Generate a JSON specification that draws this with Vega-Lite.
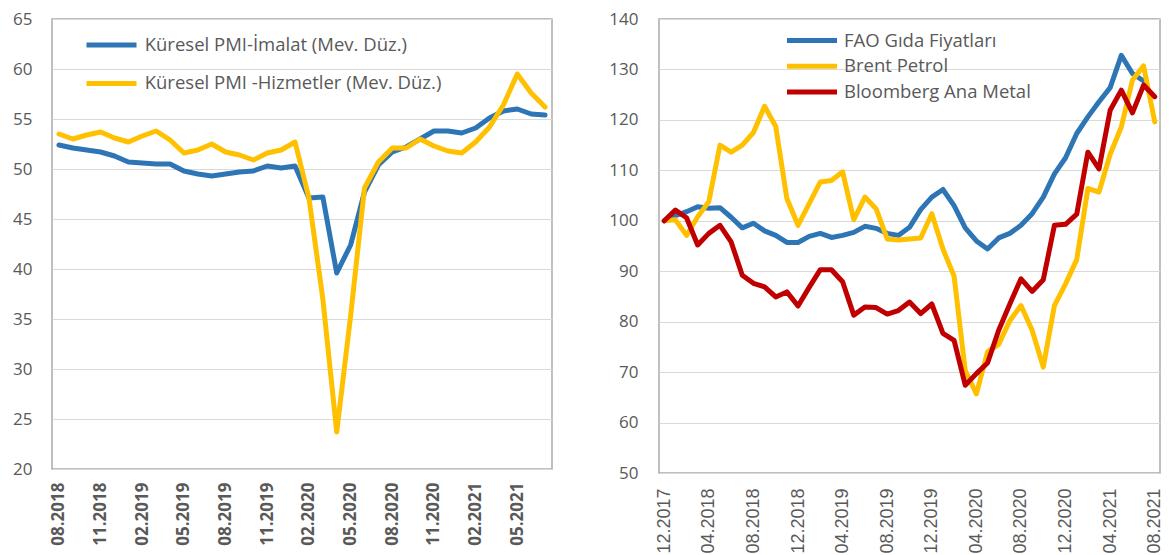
{
  "$schema": "https://vega.github.io/schema/vega-lite/v6.json",
  "background": "white",
  "padding": {"left": 11, "top": 9, "right": 0, "bottom": 0},
  "spacing": 55,
  "config": {
    "view": {"stroke": "#ABABAB", "strokeWidth": 1.5},
    "axis": {"ticks": false, "domain": false, "labelColor": "#595959"}
  },
  "datasets": {
    "pmi": [
      {"d": "08.2018", "imalat": 52.4, "hizmet": 53.5},
      {"d": "09.2018", "imalat": 52.1, "hizmet": 53.0},
      {"d": "10.2018", "imalat": 51.9, "hizmet": 53.4},
      {"d": "11.2018", "imalat": 51.7, "hizmet": 53.7},
      {"d": "12.2018", "imalat": 51.3, "hizmet": 53.1},
      {"d": "01.2019", "imalat": 50.7, "hizmet": 52.7},
      {"d": "02.2019", "imalat": 50.6, "hizmet": 53.3},
      {"d": "03.2019", "imalat": 50.5, "hizmet": 53.8},
      {"d": "04.2019", "imalat": 50.5, "hizmet": 52.9},
      {"d": "05.2019", "imalat": 49.8, "hizmet": 51.6},
      {"d": "06.2019", "imalat": 49.5, "hizmet": 51.9},
      {"d": "07.2019", "imalat": 49.3, "hizmet": 52.5},
      {"d": "08.2019", "imalat": 49.5, "hizmet": 51.7},
      {"d": "09.2019", "imalat": 49.7, "hizmet": 51.4},
      {"d": "10.2019", "imalat": 49.8, "hizmet": 50.9},
      {"d": "11.2019", "imalat": 50.3, "hizmet": 51.6},
      {"d": "12.2019", "imalat": 50.1, "hizmet": 51.9},
      {"d": "01.2020", "imalat": 50.3, "hizmet": 52.7},
      {"d": "02.2020", "imalat": 47.1, "hizmet": 47.1},
      {"d": "03.2020", "imalat": 47.2, "hizmet": 37.0},
      {"d": "04.2020", "imalat": 39.6, "hizmet": 23.7},
      {"d": "05.2020", "imalat": 42.4, "hizmet": 35.3},
      {"d": "06.2020", "imalat": 47.7, "hizmet": 48.1},
      {"d": "07.2020", "imalat": 50.4, "hizmet": 50.7},
      {"d": "08.2020", "imalat": 51.7, "hizmet": 52.1},
      {"d": "09.2020", "imalat": 52.2, "hizmet": 52.1},
      {"d": "10.2020", "imalat": 53.0, "hizmet": 53.0},
      {"d": "11.2020", "imalat": 53.8, "hizmet": 52.3},
      {"d": "12.2020", "imalat": 53.8, "hizmet": 51.8},
      {"d": "01.2021", "imalat": 53.6, "hizmet": 51.6},
      {"d": "02.2021", "imalat": 54.1, "hizmet": 52.7},
      {"d": "03.2021", "imalat": 55.1, "hizmet": 54.2},
      {"d": "04.2021", "imalat": 55.8, "hizmet": 56.4},
      {"d": "05.2021", "imalat": 56.0, "hizmet": 59.5},
      {"d": "06.2021", "imalat": 55.5, "hizmet": 57.6},
      {"d": "07.2021", "imalat": 55.4, "hizmet": 56.2}
    ],
    "emtia": [
      {"d": "12.2017", "fao": 100.0, "brent": 100.0, "metal": 100.0},
      {"d": "01.2018", "fao": 101.0, "brent": 100.2, "metal": 102.1},
      {"d": "02.2018", "fao": 101.8, "brent": 97.1, "metal": 100.6},
      {"d": "03.2018", "fao": 102.8, "brent": 100.8, "metal": 95.2},
      {"d": "04.2018", "fao": 102.5, "brent": 103.8, "metal": 97.5},
      {"d": "05.2018", "fao": 102.6, "brent": 115.0, "metal": 99.1},
      {"d": "06.2018", "fao": 100.7, "brent": 113.6, "metal": 95.8},
      {"d": "07.2018", "fao": 98.6, "brent": 115.0, "metal": 89.2},
      {"d": "08.2018", "fao": 99.5, "brent": 117.5, "metal": 87.6},
      {"d": "09.2018", "fao": 98.0, "brent": 122.7, "metal": 86.9},
      {"d": "10.2018", "fao": 97.1, "brent": 118.7, "metal": 84.9},
      {"d": "11.2018", "fao": 95.7, "brent": 104.4, "metal": 85.9},
      {"d": "12.2018", "fao": 95.7, "brent": 99.1, "metal": 83.1},
      {"d": "01.2019", "fao": 96.9, "brent": 103.4, "metal": 86.8},
      {"d": "02.2019", "fao": 97.5, "brent": 107.7, "metal": 90.3},
      {"d": "03.2019", "fao": 96.7, "brent": 108.0, "metal": 90.3},
      {"d": "04.2019", "fao": 97.1, "brent": 109.7, "metal": 87.9},
      {"d": "05.2019", "fao": 97.7, "brent": 100.2, "metal": 81.3},
      {"d": "06.2019", "fao": 98.9, "brent": 104.7, "metal": 82.9},
      {"d": "07.2019", "fao": 98.5, "brent": 102.4, "metal": 82.8},
      {"d": "08.2019", "fao": 97.5, "brent": 96.4, "metal": 81.5},
      {"d": "09.2019", "fao": 97.1, "brent": 96.2, "metal": 82.2},
      {"d": "10.2019", "fao": 98.7, "brent": 96.4, "metal": 83.9},
      {"d": "11.2019", "fao": 102.2, "brent": 96.6, "metal": 81.6},
      {"d": "12.2019", "fao": 104.7, "brent": 101.4, "metal": 83.5},
      {"d": "01.2020", "fao": 106.2, "brent": 94.4, "metal": 77.7},
      {"d": "02.2020", "fao": 103.0, "brent": 89.0, "metal": 76.3},
      {"d": "03.2020", "fao": 98.6, "brent": 70.3, "metal": 67.4},
      {"d": "04.2020", "fao": 96.0, "brent": 65.7, "metal": 69.7},
      {"d": "05.2020", "fao": 94.4, "brent": 74.0, "metal": 71.8},
      {"d": "06.2020", "fao": 96.6, "brent": 75.5, "metal": 78.3},
      {"d": "07.2020", "fao": 97.5, "brent": 80.2, "metal": 83.5},
      {"d": "08.2020", "fao": 99.1, "brent": 83.2, "metal": 88.5},
      {"d": "09.2020", "fao": 101.4, "brent": 78.3, "metal": 86.0},
      {"d": "10.2020", "fao": 104.7, "brent": 71.0, "metal": 88.3},
      {"d": "11.2020", "fao": 109.3, "brent": 83.2, "metal": 99.1},
      {"d": "12.2020", "fao": 112.5, "brent": 87.5, "metal": 99.3},
      {"d": "01.2021", "fao": 117.3, "brent": 92.3, "metal": 101.3},
      {"d": "02.2021", "fao": 120.6, "brent": 106.4, "metal": 113.6},
      {"d": "03.2021", "fao": 123.6, "brent": 105.7, "metal": 110.3},
      {"d": "04.2021", "fao": 126.4, "brent": 113.2, "metal": 121.9},
      {"d": "05.2021", "fao": 132.8, "brent": 118.6, "metal": 125.9},
      {"d": "06.2021", "fao": 129.2, "brent": 127.9, "metal": 121.4},
      {"d": "07.2021", "fao": 127.7, "brent": 130.7, "metal": 126.9},
      {"d": "08.2021", "fao": null, "brent": 119.6, "metal": 124.6}
    ]
  },
  "hconcat": [
    {
      "width": 500,
      "height": 450,
      "data": {"name": "pmi"},
      "transform": [{"fold": ["imalat", "hizmet"], "as": ["seri", "deger"]}],
      "mark": {"type": "line", "strokeWidth": 5, "strokeJoin": "round", "strokeCap": "round"},
      "encoding": {
        "x": {
          "field": "d", "type": "ordinal", "sort": null,
          "scale": {"type": "point", "padding": 0.5},
          "axis": {
            "title": null, "grid": false, "labelAngle": -90,
            "values": ["08.2018", "11.2018", "02.2019", "05.2019", "08.2019", "11.2019", "02.2020", "05.2020", "08.2020", "11.2020", "02.2021", "05.2021"],
            "labelFont": "Open Sans", "labelFontWeight": "bold", "labelFontSize": 17, "labelPadding": 13
          }
        },
        "y": {
          "field": "deger", "type": "quantitative",
          "scale": {"domain": [20, 65], "nice": false, "zero": false},
          "axis": {
            "title": null, "grid": true, "gridColor": "#D9D9D9", "gridWidth": 1.2,
            "values": [20, 25, 30, 35, 40, 45, 50, 55, 60, 65],
            "labelFont": "Open Sans", "labelFontSize": 17, "labelPadding": 20
          }
        },
        "color": {
          "field": "seri", "type": "nominal",
          "scale": {"domain": ["imalat", "hizmet"], "range": ["#2E75B6", "#FFC000"]},
          "legend": {
            "title": null, "orient": "none", "legendX": 32, "legendY": 16, "padding": 0,
            "symbolType": "stroke", "symbolSize": 2500, "symbolStrokeWidth": 5,
            "clipHeight": 20, "rowPadding": 18.4, "labelOffset": 5.7, "labelLimit": 500,
            "labelFont": "Open Sans", "labelFontSize": 18.5, "labelColor": "#595959",
            "labelExpr": "datum.label == 'imalat' ? 'Küresel PMI-İmalat  (Mev. Düz.)' : 'Küresel PMI -Hizmetler (Mev. Düz.)'"
          }
        }
      }
    },
    {
      "width": 501,
      "height": 454,
      "data": {"name": "emtia"},
      "transform": [{"fold": ["fao", "brent", "metal"], "as": ["seri", "deger"]}],
      "mark": {"type": "line", "strokeWidth": 5, "strokeJoin": "round", "strokeCap": "round"},
      "encoding": {
        "x": {
          "field": "d", "type": "ordinal", "sort": null,
          "scale": {"type": "point", "padding": 0.47},
          "axis": {
            "title": null, "grid": false, "labelAngle": -90,
            "values": ["12.2017", "04.2018", "08.2018", "12.2018", "04.2019", "08.2019", "12.2019", "04.2020", "08.2020", "12.2020", "04.2021", "08.2021"],
            "labelFont": "Liberation Sans", "labelFontSize": 18, "labelPadding": 15
          }
        },
        "y": {
          "field": "deger", "type": "quantitative",
          "scale": {"domain": [50, 140], "nice": false, "zero": false},
          "axis": {
            "title": null, "grid": true, "gridColor": "#D9D9D9", "gridWidth": 1.2,
            "values": [50, 60, 70, 80, 90, 100, 110, 120, 130, 140],
            "labelFont": "Open Sans", "labelFontSize": 17, "labelPadding": 21
          }
        },
        "color": {
          "field": "seri", "type": "nominal",
          "scale": {"domain": ["fao", "brent", "metal"], "range": ["#2E75B6", "#FFC000", "#C00000"]},
          "legend": {
            "title": null, "orient": "none", "legendX": 125.5, "legendY": 11.5, "padding": 0,
            "symbolType": "stroke", "symbolSize": 2500, "symbolStrokeWidth": 5,
            "clipHeight": 20, "rowPadding": 5.8, "labelOffset": 4.5, "labelLimit": 500,
            "labelFont": "Open Sans", "labelFontSize": 18.5, "labelColor": "#595959",
            "labelExpr": "datum.label == 'fao' ? 'FAO Gıda Fiyatları' : datum.label == 'brent' ? 'Brent Petrol' : 'Bloomberg Ana Metal'"
          }
        }
      }
    }
  ],
  "resolve": {
    "scale": {"color": "independent", "x": "independent", "y": "independent"},
    "legend": {"color": "independent"}
  }
}
